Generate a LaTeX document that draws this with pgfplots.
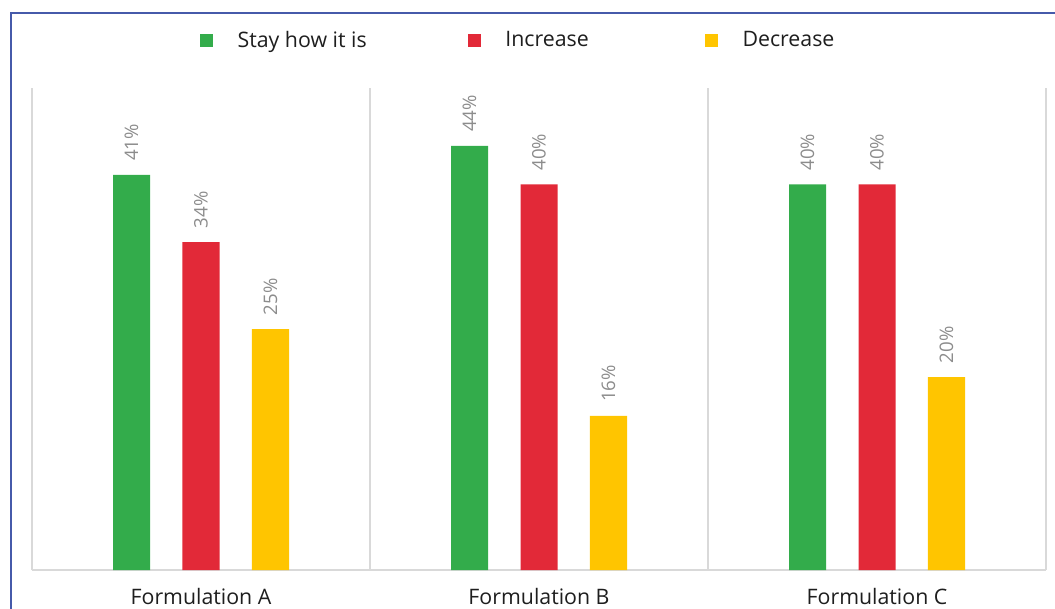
\documentclass[border=0pt]{standalone}
\usepackage{fontspec}
\setmainfont{Open Sans}
\usepackage{pgfplots}
\pgfplotsset{compat=1.18}
\definecolor{cgreen}{RGB}{51,172,75}
\definecolor{cred}{RGB}{226,41,56}
\definecolor{cyellow}{RGB}{255,197,0}
\definecolor{cgrid}{RGB}{217,217,217}
\definecolor{cborder}{RGB}{70,90,170}
\definecolor{clabel}{RGB}{140,140,140}
\definecolor{ctext}{RGB}{30,30,30}
\begin{document}
\begin{tikzpicture}
\path[use as bounding box] (-24pt,-28.5pt) rectangle (767.25pt,427.5pt);
\draw[cborder, line width=0.9pt] (-15.75pt,-30pt) -- (-15.75pt,417.75pt) -- (770pt,417.75pt);
\begin{axis}[
  scale only axis,
  width=760.5pt, height=361.5pt,
  at={(0,0)}, anchor=south west,
  ybar, bar width=0.1095,
  xmin=-0.5, xmax=2.5, ymin=0, ymax=50,
  axis x line=bottom, axis y line=none,
  axis line style={-, draw=cgrid, line width=0.9pt},
  xtick={0,1,2},
  xticklabels={Formulation A, Formulation B, Formulation C},
  major tick length=0pt,
  xticklabel style={font=\fontsize{16}{18}\selectfont, text=ctext, inner sep=0pt, anchor=north, yshift=-13.75pt},
  extra x ticks={-0.5,0.5,1.5,2.5},
  extra x tick labels={},
  extra x tick style={grid=major, major grid style={draw=cgrid, line width=0.9pt}},
  ytick=\empty,
  clip=false,
  /pgf/number format/assume math mode=true,
  nodes near coords={\pgfmathprintnumber{\pgfplotspointmeta}\%},
  nodes near coords style={font=\fontsize{14}{16}\selectfont, text=clabel, rotate=90, anchor=west, inner sep=0pt, outer sep=10.5pt},
  legend columns=3,
  legend cell align=left,
  legend style={draw=none, fill=none, font=\fontsize{16}{18}\selectfont, text=ctext,
    at={(0.4798,1.0996)}, anchor=center,
    /tikz/every even column/.append style={column sep=73.75pt},
    /tikz/every odd column/.append style={column sep=16.5pt}},
  legend image code/.code={\path[#1, draw=none] (0pt,-4.875pt) rectangle (9.75pt,4.875pt);},
]
\addplot[fill=cgreen, draw=none, bar shift=-0.2056] coordinates {(0,41) (1,44) (2,40)};
\addplot[fill=cred, draw=none, bar shift=0] coordinates {(0,34) (1,40) (2,40)};
\addplot[fill=cyellow, draw=none, bar shift=0.2056] coordinates {(0,25) (1,16) (2,20)};
\legend{Stay how it is, Increase\rule{11.25pt}{0pt}, Decrease}
\end{axis}
\end{tikzpicture}
\end{document}
